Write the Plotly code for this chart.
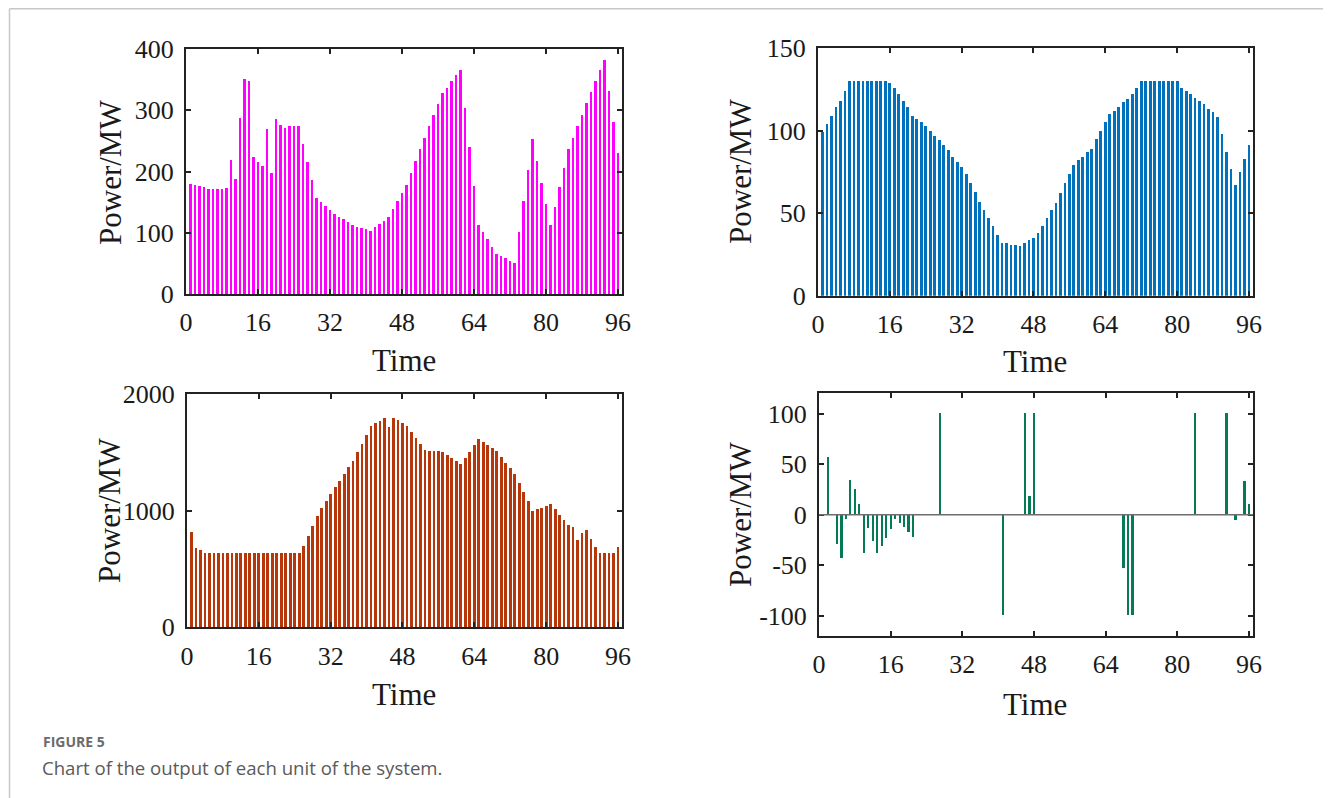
import plotly.graph_objects as go

# ---------------- data ----------------
time = list(range(1, 97))

unit1 = [180, 178, 176, 175, 171, 171, 172, 172, 173, 219,
         188, 287, 351, 347, 224, 216, 209, 269, 197, 286,
         276, 271, 275, 275, 274, 245, 215, 186, 157, 151,
         144, 137, 131, 126, 122, 118, 113, 110, 108, 106,
         103, 109, 115, 120, 126, 139, 152, 165, 178, 198,
         217, 237, 255, 274, 292, 310, 328, 337, 347, 357,
         366, 303, 240, 176, 113, 101, 89, 77, 65, 62,
         58, 54, 51, 101, 152, 202, 253, 217, 181, 147,
         112, 142, 174, 205, 236, 254, 274, 292, 312, 329,
         347, 365, 382, 332, 281, 231]

unit2 = [99, 104, 109, 114, 118, 124, 130, 130, 130, 130,
         130, 130, 130, 130, 130, 129, 126, 122, 118, 114,
         109, 107, 105, 103, 100, 97, 94, 91, 88, 84,
         81, 78, 74, 68, 63, 57, 52, 47, 42, 37,
         32, 32, 31, 30.5, 30, 32, 34, 35, 38, 42,
         47, 52, 56, 62, 68, 74, 79, 82, 84, 87,
         89, 95, 100, 105, 110, 112, 114, 117, 119, 122,
         126, 130, 130, 130, 130, 130, 130, 130, 130, 130,
         126, 124, 122, 120, 118, 116, 113, 111, 108, 98,
         87, 77, 67, 75, 83, 91]

unit3 = [815, 681, 664, 640, 640, 640, 640, 640, 640, 640,
         640, 640, 640, 640, 640, 640, 640, 640, 640, 640,
         640, 640, 640, 640, 640, 698, 784, 870, 956, 1019,
         1081, 1142, 1202, 1256, 1313, 1370, 1425, 1499, 1574, 1648,
         1725, 1748, 1771, 1794, 1719, 1794, 1774, 1751, 1728, 1674,
         1622, 1568, 1516, 1513, 1511, 1508, 1505, 1476, 1451, 1422,
         1396, 1451, 1505, 1559, 1614, 1588, 1562, 1536, 1511, 1462,
         1410, 1362, 1316, 1236, 1159, 1079, 1001, 1013, 1024, 1036,
         1056, 1010, 964, 921, 875, 864, 752, 812, 830, 758,
         690, 640, 640, 640, 640, 687]

unit4 = [0, 57, 0, -29, -43, -5, 34, 25, 10, -38,
         -14, -26, -38, -31, -23, -15, -5, -9, -13, -18,
         -22, 0, 0, 0, 0, 0, 100, 0, 0, 0,
         0, 0, 0, 0, 0, 0, 0, 0, 0, 0,
         -100, 0, 0, 0, 0, 100, 18, 100, 0, 0,
         0, 0, 0, 0, 0, 0, 0, 0, 0, 0,
         0, 0, 0, 0, 0, 0, 0, -53, -100, -100,
         0, 0, 0, 0, 0, 0, 0, 0, 0, 0,
         0, 0, 0, 100, 0, 0, 0, 0, 0, 0,
         100, 0, -6, 0, 33, 10]

x_ticks = [0, 16, 32, 48, 64, 80, 96]
y1_ticks = [0, 100, 200, 300, 400]
y2_ticks = [0, 50, 100, 150]
y3_ticks = [0, 1000, 2000]
y4_ticks = [-100, -50, 0, 50, 100]
y4_labels = ["-100", "-50", "0", "50", "100"]

# ---------------- layout helpers ----------------
W, H = 1331, 798
OFF = 8  # the page body margin shifts the figure by this many pixels
SERIF = "Liberation Serif, Times New Roman, serif"
TICKFONT = dict(family=SERIF, size=26, color="#1a1a1a")
TITLEFONT = dict(family=SERIF, size=31, color="#1a1a1a")


def fx(p):
    return (p - OFF) / W


def fy(p):
    return 1 - (p - OFF) / H


def px_dom_x(a, b):
    return [fx(a), fx(b)]


def px_dom_y(top, bottom):
    return [fy(bottom), fy(top)]


def xaxis_cfg(dom, anchor):
    return dict(domain=dom, anchor=anchor, range=[0, 96.9], tickmode="array",
                tickvals=x_ticks, ticks="inside", ticklen=5, tickwidth=2,
                tickcolor="#222", showline=True, linecolor="#222", linewidth=2,
                mirror="ticks", showgrid=False, zeroline=False, tickfont=TICKFONT,
                ticklabelstandoff=4, automargin=False, fixedrange=True)


def yaxis_cfg(dom, anchor, rng, vals, text=None):
    d = dict(domain=dom, anchor=anchor, range=rng, tickmode="array", tickvals=vals,
             ticks="inside", ticklen=5, tickwidth=2, tickcolor="#222",
             showline=True, linecolor="#222", linewidth=2, mirror="ticks",
             showgrid=False, zeroline=False, tickfont=TICKFONT, ticklabelstandoff=5,
             automargin=False, fixedrange=True)
    if text is not None:
        d["ticktext"] = text
    return d


fig = go.Figure()

fig.add_trace(go.Bar(x=time, y=unit1, marker=dict(color="#FF00FF", line=dict(width=0)),
                     width=0.62, xaxis="x", yaxis="y"))
fig.add_trace(go.Bar(x=time, y=unit2, marker=dict(color="#0072BD", line=dict(width=0)),
                     width=0.62, xaxis="x2", yaxis="y2"))
fig.add_trace(go.Bar(x=time, y=unit3, marker=dict(color="#B8370A", line=dict(width=0)),
                     width=0.62, xaxis="x3", yaxis="y3"))
fig.add_trace(go.Bar(x=time, y=unit4, marker=dict(color="#067A57", line=dict(width=0)),
                     width=0.5, xaxis="x4", yaxis="y4"))

fig.update_layout(
    width=W, height=H, autosize=False,
    margin=dict(l=0, r=0, t=0, b=0, pad=0, autoexpand=False),
    paper_bgcolor="white", plot_bgcolor="white", showlegend=False, bargap=0,
    xaxis=xaxis_cfg(px_dom_x(186, 622), "y"),
    yaxis=yaxis_cfg(px_dom_y(49, 294), "x", [0, 400], y1_ticks),
    xaxis2=xaxis_cfg(px_dom_x(818, 1253), "y2"),
    yaxis2=yaxis_cfg(px_dom_y(48, 295.7), "x2", [0, 150], y2_ticks),
    xaxis3=xaxis_cfg(px_dom_x(187, 622), "y3"),
    yaxis3=yaxis_cfg(px_dom_y(394, 627.3), "x3", [0, 2000], y3_ticks),
    xaxis4=xaxis_cfg(px_dom_x(819, 1253), "y4"),
    yaxis4=yaxis_cfg(px_dom_y(393.4, 636), "x4", [-120, 120], y4_ticks, y4_labels),
)

# baseline of the bar plot in panel 4
fig.add_shape(type="line", xref="x4 domain", yref="y4", x0=0, x1=1, y0=0, y1=0,
              line=dict(color="#6e6e6e", width=1.5))

# page frame lines
fig.add_shape(type="line", xref="paper", yref="paper", x0=fx(9.5), x1=fx(9.5),
              y0=0, y1=fy(8.8), line=dict(color="#c8c8c8", width=1.5))
fig.add_shape(type="line", xref="paper", yref="paper", x0=fx(9.5), x1=1,
              y0=fy(8.8), y1=fy(8.8), line=dict(color="#c8c8c8", width=1.5))

# axis titles
titles = [
    ("Power/MW", 110, 172, -90), ("Time", 404, 360, 0),
    ("Power/MW", 740, 172, -90), ("Time", 1035, 362, 0),
    ("Power/MW", 109, 511, -90), ("Time", 404, 694, 0),
    ("Power/MW", 740, 515, -90), ("Time", 1035, 704, 0),
]
for txt, cx, cy, ang in titles:
    fig.add_annotation(text=txt, x=fx(cx), y=fy(cy), xref="paper", yref="paper",
                       showarrow=False, textangle=ang, font=TITLEFONT,
                       xanchor="center", yanchor="middle")

# caption
fig.add_annotation(text="<b>FIGURE 5</b>", x=fx(41), y=fy(741), xref="paper",
                   yref="paper", showarrow=False, xanchor="left", yanchor="middle",
                   font=dict(family="Open Sans, sans-serif", size=14, color="#6b6b6b"))
fig.add_annotation(text="Chart of the output of each unit of the system.", x=fx(40),
                   y=fy(767), xref="paper", yref="paper", showarrow=False,
                   xanchor="left", yanchor="middle",
                   font=dict(family="Open Sans, sans-serif", size=18.6, color="#5a5a5a"))

fig.write_html("out.html", config={"displayModeBar": False})
